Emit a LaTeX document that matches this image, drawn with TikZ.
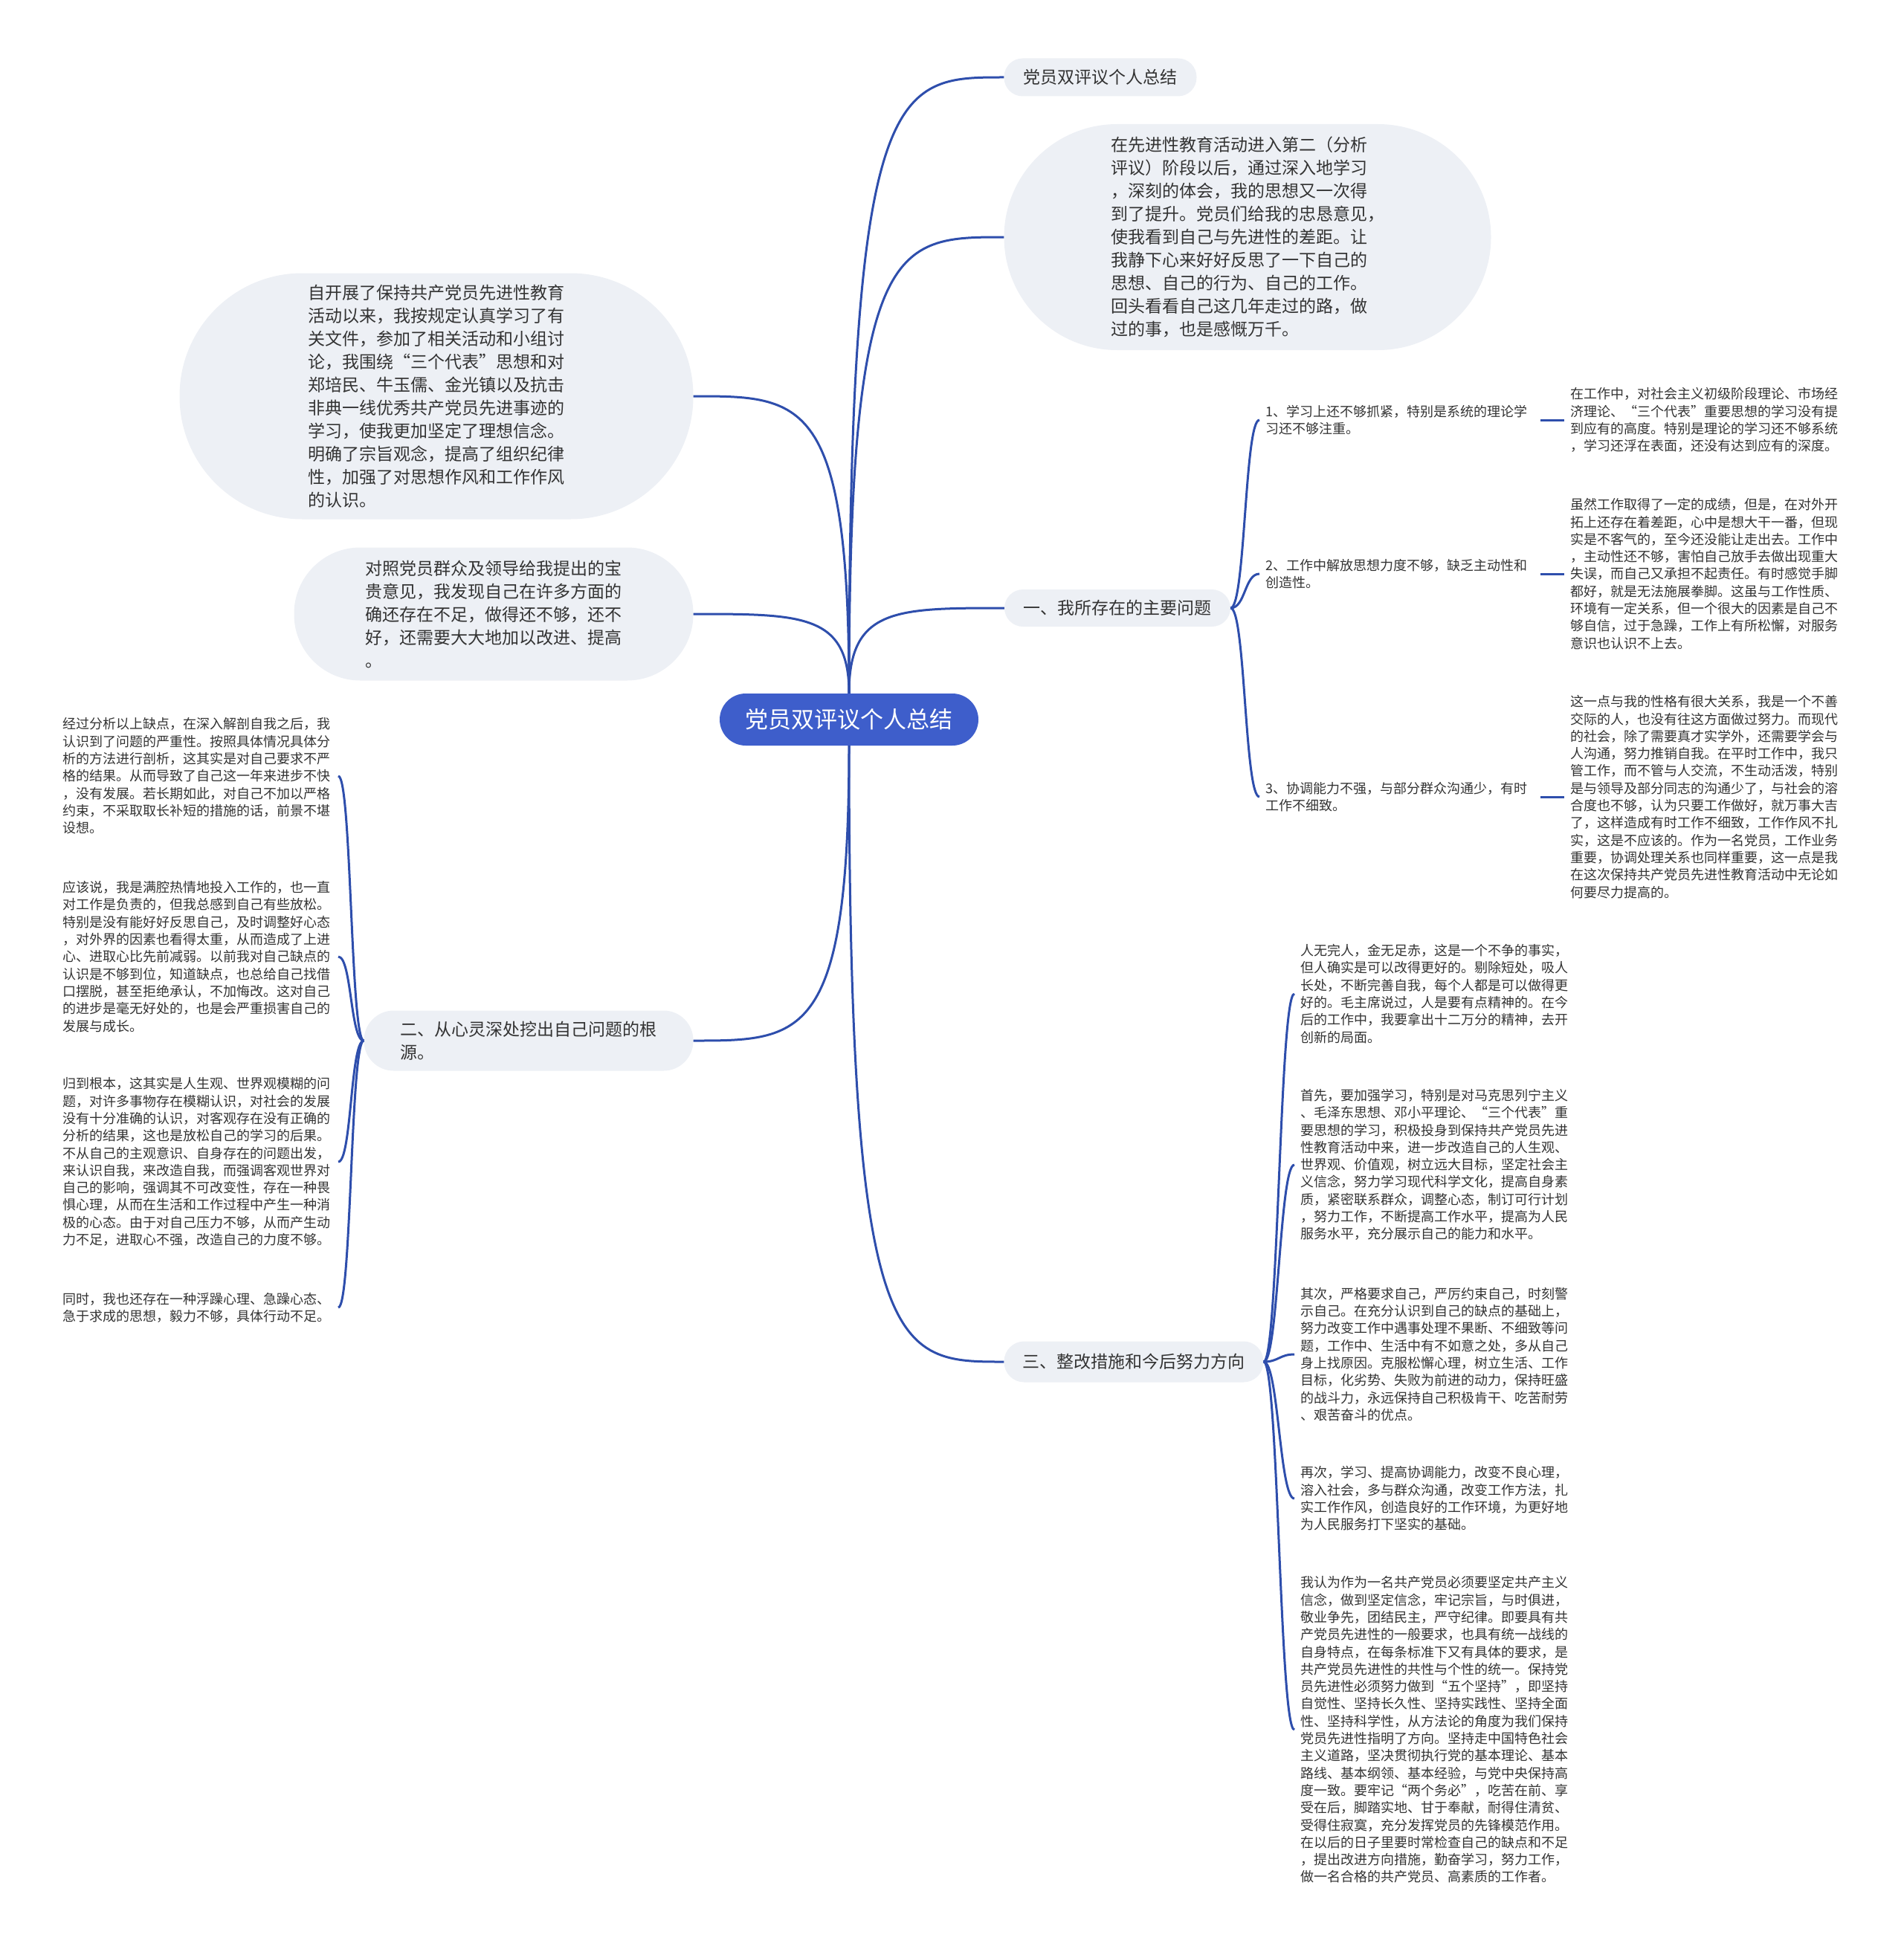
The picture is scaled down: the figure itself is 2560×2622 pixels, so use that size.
\documentclass[tikz,border=0pt]{standalone}
\usepackage{fontspec}
\setmainfont{Noto Sans CJK SC}
\usetikzlibrary{positioning, calc}

\definecolor{linkblue}{RGB}{46,78,172}
\definecolor{rootblue}{RGB}{62,94,203}
\definecolor{bubblegray}{RGB}{237,240,245}
\definecolor{inkgray}{RGB}{51,51,51}

\begin{document}
\begin{tikzpicture}[
  x=1pt, y=-1pt,
  root/.style={fill=rootblue, text=white, inner sep=0pt,
    font=\fontsize{31}{36}\selectfont},
  bubble/.style={fill=bubblegray, text=inkgray, inner sep=0pt,
    align=left, font=\fontsize{23}{31}\selectfont},
  leaf/.style={text=inkgray, inner xsep=8pt, inner ysep=0pt,
    text width=362pt, align=left, font=\fontsize{18}{23.3}\selectfont},
  link/.style={draw=linkblue, line width=3pt},
]
\useasboundingbox (0,0) rectangle (2560,2622);

% === root ===
\node[root, minimum width=348pt, minimum height=70pt, rounded corners=35pt]
  (c) at (1142,968) {党员双评议个人总结};

% === upper bubbles ===
\node[bubble, minimum width=259pt, minimum height=51pt, rounded corners=25pt]
  (t1) at (1480,104) {党员双评议个人总结};
\node[bubble, minimum width=655pt, minimum height=304pt, rounded corners=152pt]
  (t2) at (1678,319)
  {在先进性教育活动进入第二（分析\\评议）阶段以后，通过深入地学习\\，深刻的体会，我的思想又一次得\\到了提升。党员们给我的忠恳意见，\\使我看到自己与先进性的差距。让\\我静下心来好好反思了一下自己的\\思想、自己的行为、自己的工作。\\回头看看自己这几年走过的路，做\\过的事，也是感慨万千。};
\node[bubble, minimum width=691pt, minimum height=331pt, rounded corners=165pt]
  (t3) at (587,533)
  {自开展了保持共产党员先进性教育\\活动以来，我按规定认真学习了有\\关文件，参加了相关活动和小组讨\\论，我围绕“三个代表”思想和对\\郑培民、牛玉儒、金光镇以及抗击\\非典一线优秀共产党员先进事迹的\\学习，使我更加坚定了理想信念。\\明确了宗旨观念，提高了组织纪律\\性，加强了对思想作风和工作作风\\的认识。};
\node[bubble, minimum width=537pt, minimum height=179pt, rounded corners=89pt]
  (t4) at (664,826)
  {对照党员群众及领导给我提出的宝\\贵意见，我发现自己在许多方面的\\确还存在不足，做得还不够，还不\\好，还需要大大地加以改进、提高\\。};

% === section nodes ===
\node[bubble, minimum width=304pt, minimum height=50pt, rounded corners=25pt]
  (b1) at (1503,818) {一、我所存在的主要问题};
\node[bubble, minimum width=443pt, minimum height=81pt, rounded corners=40pt]
  (b2) at (711,1400) {二、从心灵深处挖出自己问题的根\\源。};
\node[bubble, minimum width=349pt, minimum height=55pt, rounded corners=27pt]
  (b3) at (1525,1832) {三、整改措施和今后努力方向};

% === section one: problems ===
\node[leaf, anchor=west] (l1) at (1694,565)
  {1、学习上还不够抓紧，特别是系统的理论学\\习还不够注重。};
\node[leaf, anchor=west] (l2) at (1694,772)
  {2、工作中解放思想力度不够，缺乏主动性和\\创造性。};
\node[leaf, anchor=west] (l3) at (1694,1072)
  {3、协调能力不强，与部分群众沟通少，有时\\工作不细致。};

\node[leaf, anchor=west] (d1) at (2104,565)
  {在工作中，对社会主义初级阶段理论、市场经\\济理论、“三个代表”重要思想的学习没有提\\到应有的高度。特别是理论的学习还不够系统\\，学习还浮在表面，还没有达到应有的深度。};
\node[leaf, anchor=west] (d2) at (2104,772)
  {虽然工作取得了一定的成绩，但是，在对外开\\拓上还存在着差距，心中是想大干一番，但现\\实是不客气的，至今还没能让走出去。工作中\\，主动性还不够，害怕自己放手去做出现重大\\失误，而自己又承担不起责任。有时感觉手脚\\都好，就是无法施展拳脚。这虽与工作性质、\\环境有一定关系，但一个很大的因素是自己不\\够自信，过于急躁，工作上有所松懈，对服务\\意识也认识不上去。};
\node[leaf, anchor=west] (d3) at (2104,1072)
  {这一点与我的性格有很大关系，我是一个不善\\交际的人，也没有往这方面做过努力。而现代\\的社会，除了需要真才实学外，还需要学会与\\人沟通，努力推销自我。在平时工作中，我只\\管工作，而不管与人交流，不生动活泼，特别\\是与领导及部分同志的沟通少了，与社会的溶\\合度也不够，认为只要工作做好，就万事大吉\\了，这样造成有时工作不细致，工作作风不扎\\实，这是不应该的。作为一名党员，工作业务\\重要，协调处理关系也同样重要，这一点是我\\在这次保持共产党员先进性教育活动中无论如\\何要尽力提高的。};

% === section two: roots (left) ===
\node[leaf, anchor=east] (e1) at (455,1044)
  {经过分析以上缺点，在深入解剖自我之后，我\\认识到了问题的严重性。按照具体情况具体分\\析的方法进行剖析，这其实是对自己要求不严\\格的结果。从而导致了自己这一年来进步不快\\，没有发展。若长期如此，对自己不加以严格\\约束，不采取取长补短的措施的话，前景不堪\\设想。};
\node[leaf, anchor=east] (e2) at (455,1287)
  {应该说，我是满腔热情地投入工作的，也一直\\对工作是负责的，但我总感到自己有些放松。\\特别是没有能好好反思自己，及时调整好心态\\，对外界的因素也看得太重，从而造成了上进\\心、进取心比先前减弱。以前我对自己缺点的\\认识是不够到位，知道缺点，也总给自己找借\\口摆脱，甚至拒绝承认，不加悔改。这对自己\\的进步是毫无好处的，也是会严重损害自己的\\发展与成长。};
\node[leaf, anchor=east] (e3) at (455,1563)
  {归到根本，这其实是人生观、世界观模糊的问\\题，对许多事物存在模糊认识，对社会的发展\\没有十分准确的认识，对客观存在没有正确的\\分析的结果，这也是放松自己的学习的后果。\\不从自己的主观意识、自身存在的问题出发，\\来认识自我，来改造自我，而强调客观世界对\\自己的影响，强调其不可改变性，存在一种畏\\惧心理，从而在生活和工作过程中产生一种消\\极的心态。由于对自己压力不够，从而产生动\\力不足，进取心不强，改造自己的力度不够。};
\node[leaf, anchor=east] (e4) at (455,1759)
  {同时，我也还存在一种浮躁心理、急躁心态、\\急于求成的思想，毅力不够，具体行动不足。};

% === section three: measures ===
\node[leaf, anchor=west] (f1) at (1741,1337)
  {人无完人，金无足赤，这是一个不争的事实，\\但人确实是可以改得更好的。剔除短处，吸人\\长处，不断完善自我，每个人都是可以做得更\\好的。毛主席说过，人是要有点精神的。在今\\后的工作中，我要拿出十二万分的精神，去开\\创新的局面。};
\node[leaf, anchor=west] (f2) at (1741,1567)
  {首先，要加强学习，特别是对马克思列宁主义\\、毛泽东思想、邓小平理论、“三个代表”重\\要思想的学习，积极投身到保持共产党员先进\\性教育活动中来，进一步改造自己的人生观、\\世界观、价值观，树立远大目标，坚定社会主\\义信念，努力学习现代科学文化，提高自身素\\质，紧密联系群众，调整心态，制订可行计划\\，努力工作，不断提高工作水平，提高为人民\\服务水平，充分展示自己的能力和水平。};
\node[leaf, anchor=west] (f3) at (1741,1822)
  {其次，严格要求自己，严厉约束自己，时刻警\\示自己。在充分认识到自己的缺点的基础上，\\努力改变工作中遇事处理不果断、不细致等问\\题，工作中、生活中有不如意之处，多从自己\\身上找原因。克服松懈心理，树立生活、工作\\目标，化劣势、失败为前进的动力，保持旺盛\\的战斗力，永远保持自己积极肯干、吃苦耐劳\\、艰苦奋斗的优点。};
\node[leaf, anchor=west] (f4) at (1741,2016)
  {再次，学习、提高协调能力，改变不良心理，\\溶入社会，多与群众沟通，改变工作方法，扎\\实工作作风，创造良好的工作环境，为更好地\\为人民服务打下坚实的基础。};
\node[leaf, anchor=west] (f5) at (1741,2327)
  {我认为作为一名共产党员必须要坚定共产主义\\信念，做到坚定信念，牢记宗旨，与时俱进，\\敬业争先，团结民主，严守纪律。即要具有共\\产党员先进性的一般要求，也具有统一战线的\\自身特点，在每条标准下又有具体的要求，是\\共产党员先进性的共性与个性的统一。保持党\\员先进性必须努力做到“五个坚持”，即坚持\\自觉性、坚持长久性、坚持实践性、坚持全面\\性、坚持科学性，从方法论的角度为我们保持\\党员先进性指明了方向。坚持走中国特色社会\\主义道路，坚决贯彻执行党的基本理论、基本\\路线、基本纲领、基本经验，与党中央保持高\\度一致。要牢记“两个务必”，吃苦在前、享\\受在后，脚踏实地、甘于奉献，耐得住清贫、\\受得住寂寞，充分发挥党员的先锋模范作用。\\在以后的日子里要时常检查自己的缺点和不足\\，提出改进方向措施，勤奋学习，努力工作，\\做一名合格的共产党员、高素质的工作者。};

% === root links ===
\draw[link] (c.north) .. controls (c.north |- t1.west) and ($(c.north |- t1.west)!0.3!(t1.west)$) .. (t1.west);
\draw[link] (c.north) .. controls (c.north |- t2.west) and ($(c.north |- t2.west)!0.3!(t2.west)$) .. (t2.west);
\draw[link] (c.north) .. controls (c.north |- t3.east) and ($(c.north |- t3.east)!0.3!(t3.east)$) .. (t3.east);
\draw[link] (c.north) .. controls (c.north |- t4.east) and ($(c.north |- t4.east)!0.3!(t4.east)$) .. (t4.east);
\draw[link] (c.north) .. controls (c.north |- b1.west) and ($(c.north |- b1.west)!0.3!(b1.west)$) .. (b1.west);
\draw[link] (c.south) .. controls (c.south |- b2.east) and ($(c.south |- b2.east)!0.3!(b2.east)$) .. (b2.east);
\draw[link] (c.south) .. controls (c.south |- b3.west) and ($(c.south |- b3.west)!0.3!(b3.west)$) .. (b3.west);

% === section brackets ===
\draw[link] (b1.east) .. controls ($(b1.east)+(20,0)$) and ($(l1.west)+(-20,0)$) .. (l1.west);
\draw[link] (b1.east) .. controls ($(b1.east)+(20,0)$) and ($(l2.west)+(-20,0)$) .. (l2.west);
\draw[link] (b1.east) .. controls ($(b1.east)+(20,0)$) and ($(l3.west)+(-20,0)$) .. (l3.west);
\draw[link] (l1) -- (d1);
\draw[link] (l2) -- (d2);
\draw[link] (l3) -- (d3);

\draw[link] (b2.west) .. controls ($(b2.west)+(-18,0)$) and ($(e1.east)+(18,0)$) .. (e1.east);
\draw[link] (b2.west) .. controls ($(b2.west)+(-18,0)$) and ($(e2.east)+(18,0)$) .. (e2.east);
\draw[link] (b2.west) .. controls ($(b2.west)+(-18,0)$) and ($(e3.east)+(18,0)$) .. (e3.east);
\draw[link] (b2.west) .. controls ($(b2.west)+(-18,0)$) and ($(e4.east)+(18,0)$) .. (e4.east);

\draw[link] (b3.east) .. controls ($(b3.east)+(20,0)$) and ($(f1.west)+(-20,0)$) .. (f1.west);
\draw[link] (b3.east) .. controls ($(b3.east)+(20,0)$) and ($(f2.west)+(-20,0)$) .. (f2.west);
\draw[link] (b3.east) .. controls ($(b3.east)+(20,0)$) and ($(f3.west)+(-20,0)$) .. (f3.west);
\draw[link] (b3.east) .. controls ($(b3.east)+(20,0)$) and ($(f4.west)+(-20,0)$) .. (f4.west);
\draw[link] (b3.east) .. controls ($(b3.east)+(20,0)$) and ($(f5.west)+(-20,0)$) .. (f5.west);

\end{tikzpicture}
\end{document}
